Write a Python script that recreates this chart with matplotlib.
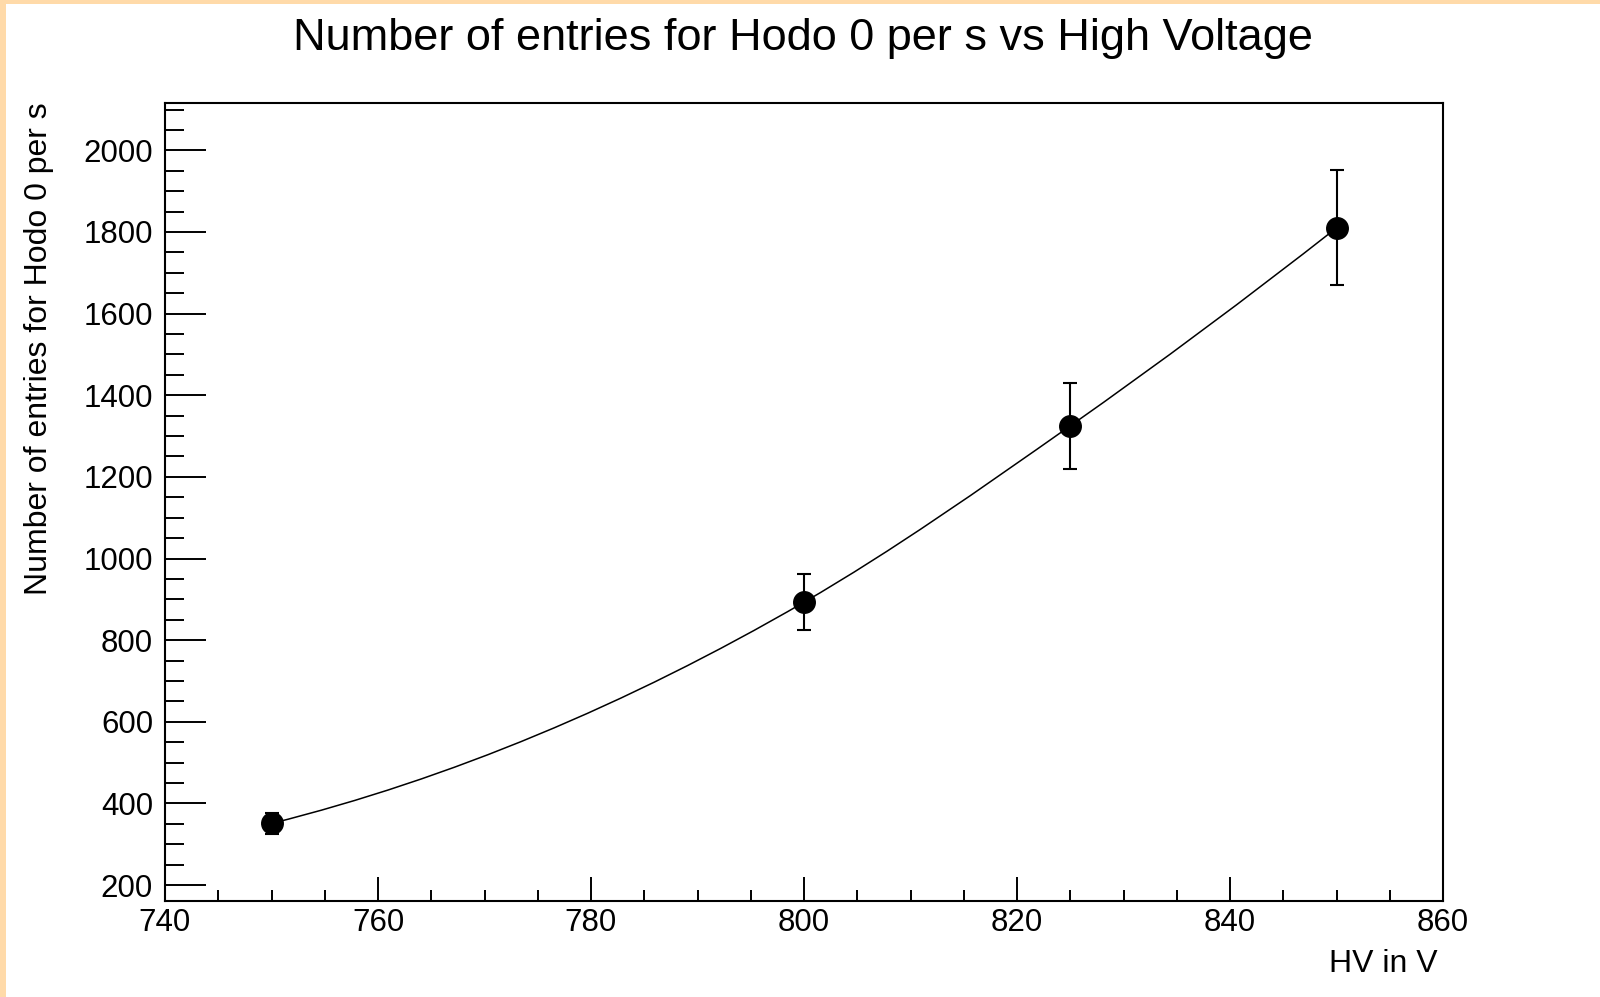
import numpy as np
import matplotlib
matplotlib.use("Agg")
import matplotlib.pyplot as plt
from matplotlib.path import Path
from matplotlib.patches import PathPatch, Rectangle
from matplotlib.ticker import MultipleLocator

# ---- data ----
hv = [750, 800, 825, 850]
rate = [351, 893, 1325, 1810]
rate_err = [25, 68, 105, 141]

title = "Number of entries for Hodo 0 per s vs High Voltage"
xlabel = "HV in V"
ylabel = "Number of entries for Hodo 0 per s"

plt.rcParams['font.family'] = ['Liberation Sans', 'DejaVu Sans']

W, H = 1600, 997
fig = plt.figure(figsize=(W / 100, H / 100), dpi=100)
fig.patch.set_facecolor('white')

# peach frame on the left and top
border = '#FFDAA9'
fig.patches.append(Rectangle((0, 0), 6 / W, 1, transform=fig.transFigure,
                             facecolor=border, edgecolor='none', zorder=0))
fig.patches.append(Rectangle((0, 1 - 4 / H), 1, 4 / H, transform=fig.transFigure,
                             facecolor=border, edgecolor='none', zorder=0))

ax = fig.add_axes([165 / W, 1 - 901 / H, (1443 - 165) / W, (901 - 103) / H])

# smooth curve through points (Hermite spline with parabolic tangents, drawn as Bezier path)
x = np.asarray(hv, float)
y = np.asarray(rate, float)
n = len(x)
m = np.zeros(n)
for i in range(n):
    if i == 0:
        a, b, c = 0, 1, 2
    elif i == n - 1:
        a, b, c = n - 3, n - 2, n - 1
    else:
        a, b, c = i - 1, i, i + 1
    d1 = (y[b] - y[a]) / (x[b] - x[a])
    d2 = (y[c] - y[b]) / (x[c] - x[b])
    dd = (d2 - d1) / (x[c] - x[a])
    m[i] = d1 + dd * ((x[i] - x[a]) + (x[i] - x[b]))
verts = [(x[0], y[0])]
codes = [Path.MOVETO]
for i in range(n - 1):
    h = x[i + 1] - x[i]
    verts += [(x[i] + h / 3, y[i] + m[i] * h / 3),
              (x[i + 1] - h / 3, y[i + 1] - m[i + 1] * h / 3),
              (x[i + 1], y[i + 1])]
    codes += [Path.CURVE4] * 3
ax.add_patch(PathPatch(Path(verts, codes), facecolor='none', edgecolor='black',
                       lw=1.1, zorder=2))

ax.errorbar(hv, rate, yerr=rate_err, fmt='o', color='black', ms=15.5,
            elinewidth=1.5, capsize=4.8, capthick=1.5, zorder=3)

ax.set_xlim(740, 860)
ax.set_ylim(161, 2116)

ax.xaxis.set_major_locator(MultipleLocator(20))
ax.xaxis.set_minor_locator(MultipleLocator(5))
ax.yaxis.set_major_locator(MultipleLocator(200))
ax.yaxis.set_minor_locator(MultipleLocator(50))

ax.tick_params(axis='both', which='both', direction='in', top=False, right=False,
               width=1.4, labelsize=22.5, color='black')
ax.tick_params(axis='y', which='major', length=29.5, pad=8.6)
ax.tick_params(axis='y', which='minor', length=13.7)
ax.tick_params(axis='x', which='major', length=17.3, pad=5)
ax.tick_params(axis='x', which='minor', length=8)

for s in ax.spines.values():
    s.set_linewidth(1.5)

fig.text(803 / W, 1 - 50 / H, title, ha='center', va='baseline', fontsize=32.5)
fig.text(1438 / W, 1 - 972 / H, xlabel, ha='right', va='baseline', fontsize=23)
fig.text(39 / W, 1 - 102 / H, ylabel, ha='center', va='top', rotation=90, fontsize=23)

fig.savefig('out.png', dpi=100)
